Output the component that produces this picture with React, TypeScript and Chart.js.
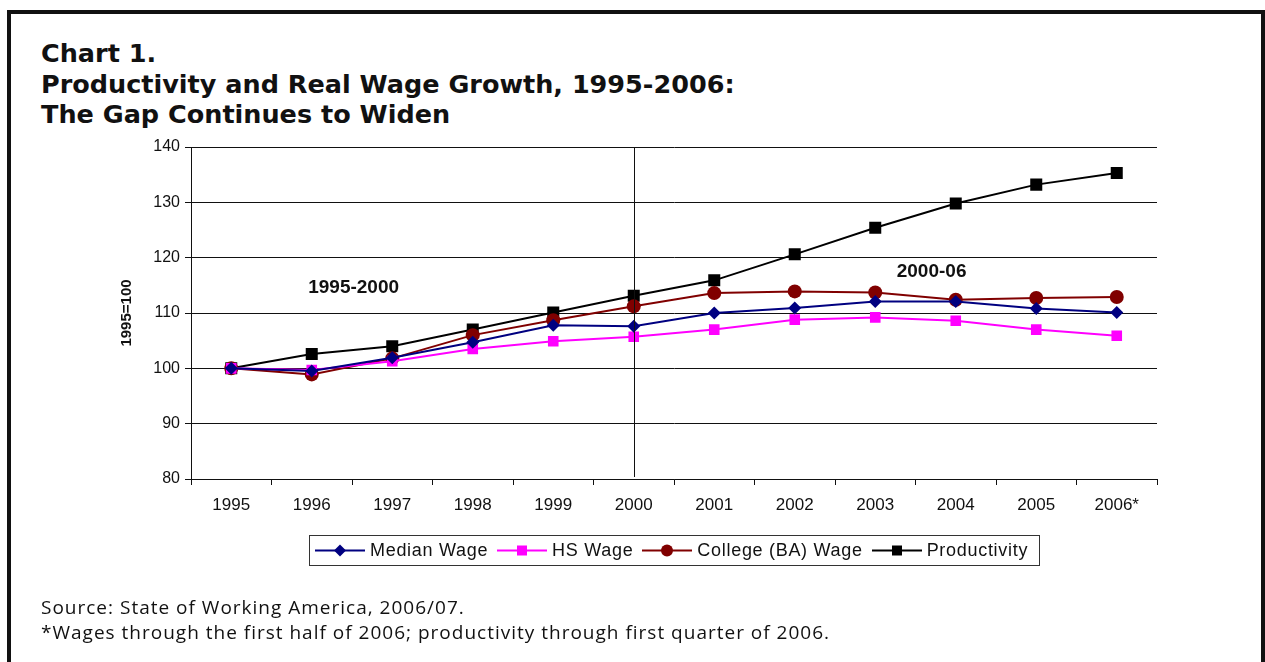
import React, { useEffect, useRef } from "react";
import { Chart, registerables } from "chart.js";

Chart.register(...registerables);

const categories = ["1995", "1996", "1997", "1998", "1999", "2000", "2001", "2002", "2003", "2004", "2005", "2006*"];
const medianWage = [100, 99.5, 101.9, 104.7, 107.8, 107.6, 110.0, 110.9, 112.1, 112.1, 110.8, 110.1];
const hsWage = [100, 99.7, 101.3, 103.5, 104.9, 105.7, 107.0, 108.8, 109.2, 108.6, 107.0, 105.9];
const collegeWage = [100, 98.9, 101.8, 106.0, 108.7, 111.2, 113.6, 113.9, 113.7, 112.4, 112.7, 112.9];
const productivity = [100, 102.6, 104.0, 107.0, 110.1, 113.1, 115.9, 120.6, 125.4, 129.8, 133.2, 135.3];

const yTicksMin = 80;
const yTicksMax = 140;
const yTickStep = 10;

const dividerCategory = "2000";
const periodLabels = [
  { text: "1995-2000", x: 1.52, y: 114.5 },
  { text: "2000-06", x: 8.7, y: 117.4 },
];

const seriesStyle = [
  { label: "Median Wage", data: medianWage, color: "#000080", point: "rectRot", radius: 6.5 },
  { label: "HS Wage", data: hsWage, color: "#FF00FF", point: "rect", radius: 7.5 },
  { label: "College (BA) Wage", data: collegeWage, color: "#800000", point: "circle", radius: 7 },
  { label: "Productivity", data: productivity, color: "#000000", point: "rect", radius: 8.5 },
];

const overlayPlugin = {
  id: "overlay",
  afterDatasetsDraw(chart: any) {
    const { ctx, chartArea, scales } = chart;
    const x = scales.x.getPixelForValue(categories.indexOf(dividerCategory));
    ctx.save();
    ctx.strokeStyle = "#111";
    ctx.lineWidth = 1;
    ctx.beginPath();
    ctx.moveTo(Math.round(x) + 0.5, chartArea.top);
    ctx.lineTo(Math.round(x) + 0.5, chartArea.bottom - 2);
    ctx.stroke();
    ctx.fillStyle = "#111";
    ctx.font = "bold 19px 'Liberation Sans', Arial, sans-serif";
    ctx.textAlign = "center";
    ctx.textBaseline = "middle";
    for (const p of periodLabels) {
      ctx.fillText(p.text, scales.x.getPixelForValue(p.x), scales.y.getPixelForValue(p.y));
    }
    ctx.restore();
  },
};

function LegendIcon({ color, point }: { color: string; point: string }) {
  let marker: any = null;
  if (point === "rectRot") marker = <polygon points="25,1.5 31,7.5 25,13.5 19,7.5" fill={color} />;
  else if (point === "circle") marker = <circle cx="25" cy="7.5" r="6" fill={color} />;
  else marker = <rect x="20" y="2.5" width="10" height="10" fill={color} />;
  return (
    <svg width="50" height="15" style={{ display: "block", marginRight: 5 }}>
      <line x1="0" y1="7.5" x2="50" y2="7.5" stroke={color} strokeWidth="2" />
      {marker}
    </svg>
  );
}

export default function App() {
  const canvasRef = useRef<HTMLCanvasElement | null>(null);

  useEffect(() => {
    const canvas = canvasRef.current;
    if (!canvas) return;
    const chart = new Chart(canvas, {
      type: "line",
      data: {
        labels: categories,
        datasets: seriesStyle.map((s) => ({
          label: s.label,
          data: s.data,
          borderColor: s.color,
          backgroundColor: s.color,
          pointBackgroundColor: s.color,
          pointBorderColor: s.color,
          pointStyle: s.point as any,
          pointRadius: s.radius,
          pointBorderWidth: 0,
          borderWidth: 2,
          tension: 0,
          fill: false,
        })),
      },
      options: {
        responsive: false,
        animation: false,
        events: [],
        layout: { padding: { left: 115, right: 108, top: 147, bottom: 143 } },
        plugins: {
          legend: { display: false },
          title: { display: false },
          tooltip: { enabled: false },
        },
        scales: {
          x: {
            offset: true,
            grid: { offset: true, drawOnChartArea: false, drawTicks: true, tickLength: 6, color: "#111" },
            border: { display: true, color: "#111" },
            ticks: {
              color: "#111",
              padding: 10,
              maxRotation: 0,
              autoSkip: false,
              font: { family: "'Liberation Sans', Arial, sans-serif", size: 17 },
            },
            afterFit: (scale: any) => {
              scale.height = 40;
            },
          },
          y: {
            min: yTicksMin,
            max: yTicksMax,
            ticks: {
              stepSize: yTickStep,
              color: "#111",
              padding: 5,
              font: { family: "'Liberation Sans', Arial, sans-serif", size: 16 },
            },
            grid: { color: "#111", tickLength: 6, lineWidth: 1 },
            border: { display: true, color: "#111" },
            title: {
              display: true,
              text: "1995=100",
              color: "#111",
              padding: { top: 3, bottom: 0 },
              font: { family: "'Liberation Sans', Arial, sans-serif", size: 15, weight: "bold" },
            },
            afterFit: (scale: any) => {
              scale.width = 76;
            },
          },
        },
      },
      plugins: [overlayPlugin],
    });
    return () => chart.destroy();
  }, []);

  return (
    <div style={{ position: "fixed", left: 0, top: 0, width: 1265, height: 662, background: "#fff", overflow: "hidden" }}>
      <div
        style={{
          position: "absolute",
          left: 7,
          top: 10,
          width: 1258,
          height: 660,
          border: "4px solid #111",
          borderBottom: "none",
          boxSizing: "border-box",
        }}
      />
      <div
        style={{
          position: "absolute",
          left: 41,
          top: 38,
          fontFamily: "'DejaVu Sans', sans-serif",
          fontWeight: 700,
          fontSize: 25.5,
          lineHeight: "30.5px",
          color: "#111",
          whiteSpace: "nowrap",
        }}
      >
        <div>Chart 1.</div>
        <div>Productivity and Real Wage Growth, 1995-2006:</div>
        <div>The Gap Continues to Widen</div>
      </div>
      <canvas ref={canvasRef} width={1265} height={662} style={{ position: "absolute", left: 0, top: 0 }} />
      <div
        style={{
          position: "absolute",
          left: 309,
          top: 535,
          width: 731,
          height: 31,
          border: "1px solid #333",
          boxSizing: "border-box",
          display: "flex",
          alignItems: "center",
          paddingLeft: 5,
          fontFamily: "'Liberation Sans', Arial, sans-serif",
          fontSize: 18,
          letterSpacing: 0.7,
          color: "#111",
          whiteSpace: "nowrap",
        }}
      >
        {seriesStyle.map((s, i) => (
          <div key={s.label} style={{ display: "flex", alignItems: "center", marginRight: i < 3 ? 9 : 0 }}>
            <LegendIcon color={s.color} point={s.point} />
            <span>{s.label}</span>
          </div>
        ))}
      </div>
      <div
        style={{
          position: "absolute",
          left: 41,
          top: 595,
          fontFamily: "'Open Sans', sans-serif",
          fontSize: 19,
          letterSpacing: 1,
          lineHeight: "25px",
          color: "#111",
          whiteSpace: "nowrap",
        }}
      >
        <div>Source: State of Working America, 2006/07.</div>
        <div>*Wages through the first half of 2006; productivity through first quarter of 2006.</div>
      </div>
    </div>
  );
}
